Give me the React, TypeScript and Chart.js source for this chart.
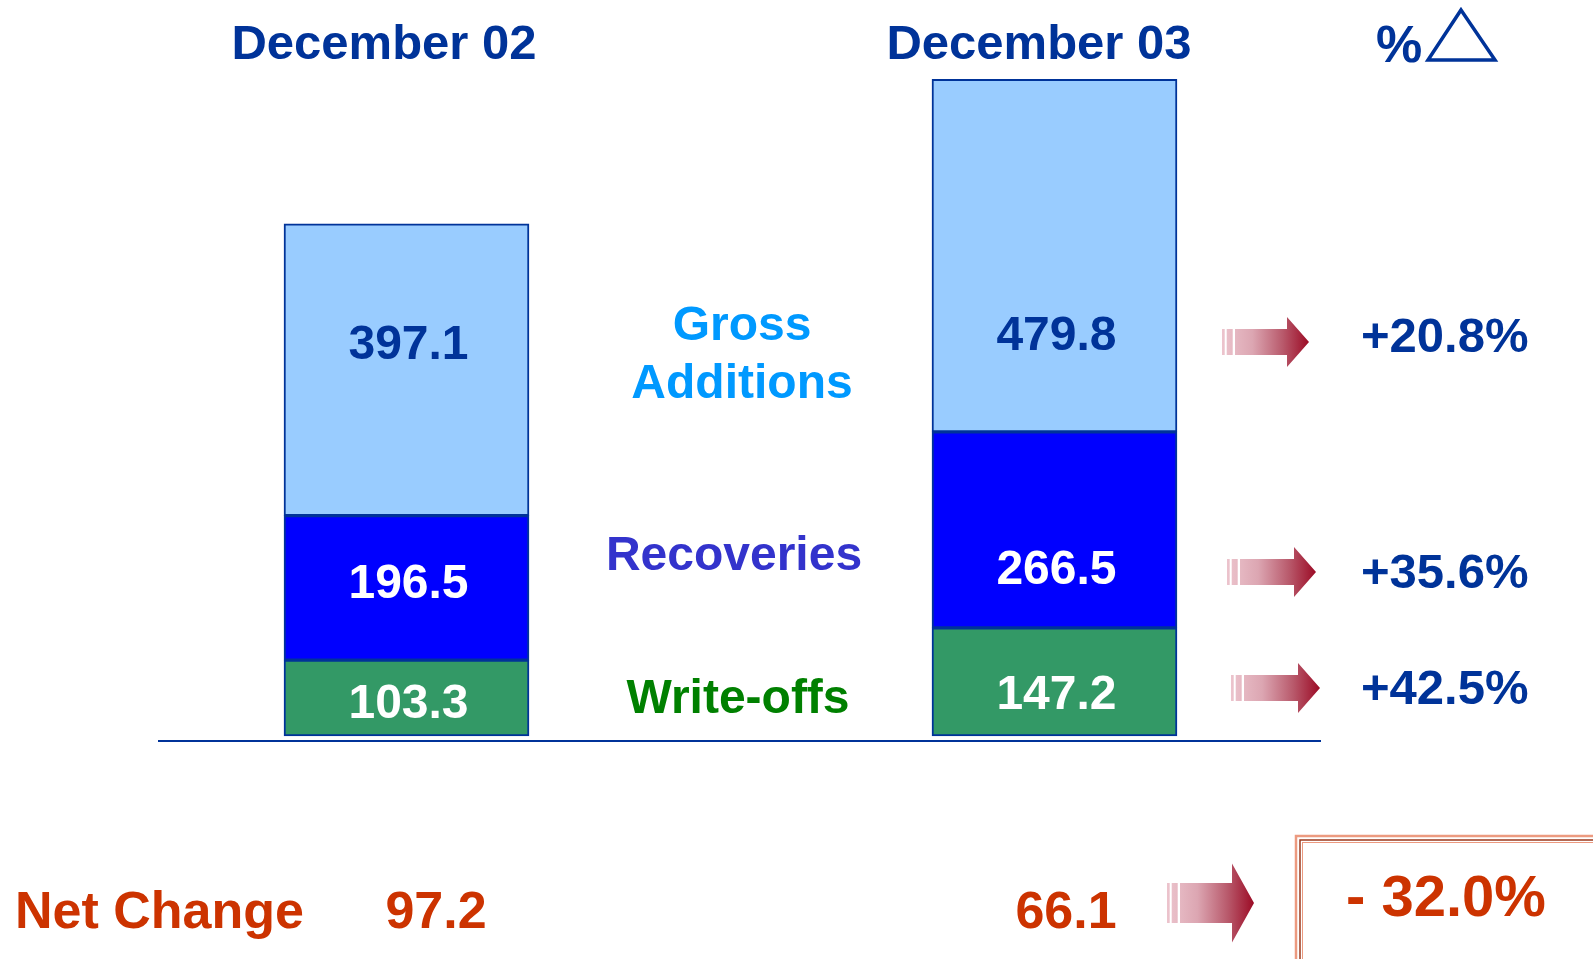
import React, { useEffect, useRef } from "react";
import { Chart, registerables } from "chart.js";

Chart.register(...registerables);

// ---- data ----
const periods = ["December 02", "December 03"];
const writeOffs = [103.3, 147.2];
const recoveries = [196.5, 266.5];
const grossAdditions = [397.1, 479.8];
const seriesNames = ["Write-offs", "Recoveries", "Gross\nAdditions"];
const pctChanges = ["+42.5%", "+35.6%", "+20.8%"];
const netChangeLabel = "Net Change";
const netChange = [97.2, 66.1];
const netChangePct = "- 32.0%";

// ---- styling / layout (not data) ----
const W = 1593;
const H = 959;
const FONT = '"Liberation Sans", Arial, Helvetica, sans-serif';
const DARK_BLUE = "#003399";
const RED = "#cc3300";
const barColors = ["#339966", "#0000ff", "#99ccff"];
const valueTextColors = ["#ffffff", "#ffffff", DARK_BLUE];
const seriesTextColors = ["#008000", "#3333cc", "#0099ff"];
// baselines of value labels, in data units (series x period)
const valueLabelAt = [
  [24.5, 36.7],
  [188, 207],
  [513, 525],
];
const Y_MIN = -6.8;
const Y_MAX = 900;
const X_MIN = -0.3835;
const X_MAX = 1.4113;

function drawArrow(
  ctx: CanvasRenderingContext2D,
  x0: number,
  tip: number,
  cy: number,
  shaftH: number,
  headH: number,
  headLen: number
) {
  const grad = ctx.createLinearGradient(x0, 0, tip, 0);
  grad.addColorStop(0, "#ecc4cd");
  grad.addColorStop(0.35, "#dca6b2");
  grad.addColorStop(0.7, "#b8596b");
  grad.addColorStop(1, "#9c0b25");
  ctx.fillStyle = grad;
  const headX = tip - headLen;
  // stripes
  ctx.fillRect(x0, cy - shaftH / 2, 2.7, shaftH);
  ctx.fillRect(x0 + 4.7, cy - shaftH / 2, 6, shaftH);
  // body
  ctx.beginPath();
  ctx.moveTo(x0 + 13, cy - shaftH / 2);
  ctx.lineTo(headX, cy - shaftH / 2);
  ctx.lineTo(headX, cy - headH / 2);
  ctx.lineTo(tip, cy);
  ctx.lineTo(headX, cy + headH / 2);
  ctx.lineTo(headX, cy + shaftH / 2);
  ctx.lineTo(x0 + 13, cy + shaftH / 2);
  ctx.closePath();
  ctx.fill();
}

const overlayPlugin = {
  id: "overlay",
  afterDatasetsDraw(chart: any) {
    const ctx: CanvasRenderingContext2D = chart.ctx;
    const { left, right } = chart.chartArea;
    const ys = chart.scales.y;
    ctx.save();

    // baseline
    const by = ys.getPixelForValue(Y_MIN);
    ctx.strokeStyle = DARK_BLUE;
    ctx.lineWidth = 2;
    ctx.beginPath();
    ctx.moveTo(left, by);
    ctx.lineTo(right, by);
    ctx.stroke();

    // value labels inside bars
    ctx.textAlign = "center";
    ctx.textBaseline = "alphabetic";
    ctx.font = `bold 48px ${FONT}`;
    chart.data.datasets.forEach((ds: any, di: number) => {
      const meta = chart.getDatasetMeta(di);
      meta.data.forEach((bar: any, i: number) => {
        ctx.fillStyle = valueTextColors[di];
        ctx.fillText(
          ds.data[i].y.toFixed(1),
          bar.x + 2,
          ys.getPixelForValue(valueLabelAt[di][i])
        );
      });
    });

    // headers
    ctx.fillStyle = DARK_BLUE;
    ctx.font = `bold 49px ${FONT}`;
    ctx.fillText(periods[0], 384, 59);
    ctx.fillText(periods[1], 1039, 59);
    ctx.textAlign = "left";
    ctx.font = `bold 52px ${FONT}`;
    ctx.fillText("%", 1376, 62);
    ctx.strokeStyle = DARK_BLUE;
    ctx.lineWidth = 3.5;
    ctx.lineJoin = "miter";
    ctx.beginPath();
    ctx.moveTo(1461, 10);
    ctx.lineTo(1495, 60);
    ctx.lineTo(1428, 60);
    ctx.closePath();
    ctx.stroke();

    // series names in the middle
    ctx.textAlign = "center";
    ctx.font = `bold 48px ${FONT}`;
    ctx.fillStyle = seriesTextColors[2];
    const ga = seriesNames[2].split("\n");
    ctx.fillText(ga[0], 742, 340);
    ctx.fillText(ga[1], 742, 398);
    ctx.fillStyle = seriesTextColors[1];
    ctx.fillText(seriesNames[1], 734, 570);
    ctx.fillStyle = seriesTextColors[0];
    ctx.fillText(seriesNames[0], 738, 713);

    // arrows + pct changes
    drawArrow(ctx, 1222, 1309, 342, 26, 50, 22);
    drawArrow(ctx, 1227, 1316, 572, 26, 50, 22);
    drawArrow(ctx, 1231, 1320, 688, 26, 50, 22);
    ctx.textAlign = "left";
    ctx.fillStyle = DARK_BLUE;
    ctx.font = `bold 49px ${FONT}`;
    ctx.fillText(pctChanges[2], 1361, 352);
    ctx.fillText(pctChanges[1], 1361, 588);
    ctx.fillText(pctChanges[0], 1361, 704);

    // net change row
    ctx.fillStyle = RED;
    ctx.font = `bold 52px ${FONT}`;
    ctx.fillText(netChangeLabel, 15, 928);
    ctx.textAlign = "center";
    ctx.fillText(netChange[0].toFixed(1), 436, 928);
    ctx.fillText(netChange[1].toFixed(1), 1066, 928);
    drawArrow(ctx, 1167, 1254, 903, 40, 79, 22);

    // boxed total change
    ctx.strokeStyle = "#ec9a80";
    ctx.lineWidth = 2.5;
    ctx.strokeRect(1296, 836, 400, 200);
    ctx.strokeStyle = "#9a3a1e";
    ctx.lineWidth = 1.5;
    ctx.strokeRect(1300, 840, 400, 200);
    ctx.strokeStyle = "#ec9a80";
    ctx.lineWidth = 1;
    ctx.strokeRect(1302.5, 842.5, 400, 200);
    ctx.fillStyle = RED;
    ctx.font = `bold 58px ${FONT}`;
    ctx.fillText(netChangePct, 1446, 916);

    ctx.restore();
  },
};

export default function App() {
  const ref = useRef<HTMLCanvasElement | null>(null);

  useEffect(() => {
    if (!ref.current) return;
    const series = [writeOffs, recoveries, grossAdditions];
    const chart = new Chart(ref.current, {
      type: "bar",
      data: {
        datasets: series.map((vals, si) => ({
          label: seriesNames[si],
          data: vals.map((v, i) => ({ x: i, y: v })),
          backgroundColor: barColors[si],
          borderColor: DARK_BLUE,
          borderWidth: 2,
          borderSkipped: false,
          barThickness: 245,
        })),
      },
      options: {
        responsive: false,
        animation: false,
        devicePixelRatio: 1,
        events: [],
        layout: { padding: { left: 158, right: 272, top: 74.5, bottom: 218 } },
        plugins: {
          legend: { display: false },
          tooltip: { enabled: false },
          title: { display: false },
        },
        scales: {
          x: {
            type: "linear",
            min: X_MIN,
            max: X_MAX,
            offset: false,
            stacked: true,
            display: false,
          },
          y: { type: "linear", min: Y_MIN, max: Y_MAX, stacked: true, display: false },
        },
      },
      plugins: [overlayPlugin],
    } as any);
    return () => chart.destroy();
  }, []);

  return (
    <div style={{ position: "absolute", left: 0, top: 0, width: W, height: H, background: "#fff" }}>
      <canvas ref={ref} width={W} height={H} style={{ width: W, height: H, display: "block" }} />
    </div>
  );
}
